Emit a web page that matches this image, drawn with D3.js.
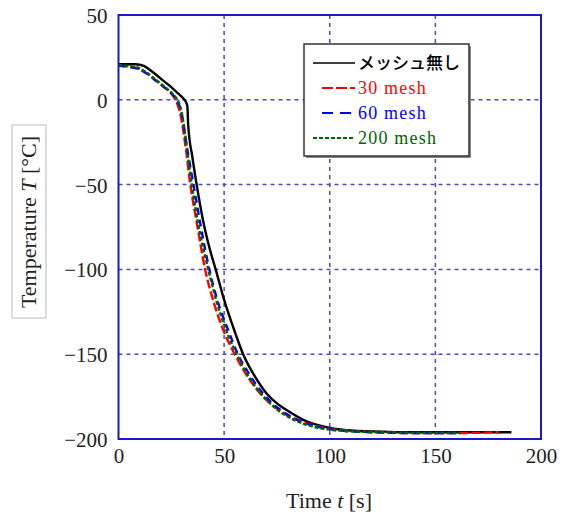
<!DOCTYPE html>
<meta charset="utf-8">
<script src="https://d3js.org/d3.v7.min.js"></script>
<style>
  body { margin: 0; background: #fff; }
  text { font-family: "Liberation Serif", "Times New Roman", serif; }
</style>
<div id="chart"></div>
<script>

    // Series (time [s], temperature [°C])
    const timeNoMesh = [0, 8, 12, 16, 20, 24, 28, 30.5, 32, 32.6, 33, 35, 37, 40, 43, 46, 50, 54, 59, 65, 70, 75, 81, 88, 95, 100, 110, 120, 140, 160, 186]
    const tempNoMesh = [21, 21, 20, 16.5, 12.5, 8.5, 4, 1, -1.5, -4, -15, -34, -50, -71, -87, -100, -118, -133, -150, -164, -173, -179, -184, -189, -192, -193.5, -195, -195.5, -196, -196, -196]

    const time30 = [0, 5, 10, 14, 18, 22, 26, 28, 29, 30, 31, 32, 34, 37, 41, 45, 50, 55, 60, 65, 70, 75, 80, 90, 100, 110, 120, 140, 160, 180]
    const temp30 = [20, 19.5, 18, 15, 11, 7, 2, -3, -7, -13, -21, -30, -50, -72, -100, -119, -137, -150, -161, -170, -177, -182, -186, -191, -194, -195, -196, -196.5, -196.5, -196]

    const time60 = [0, 5, 10, 14, 18, 22, 26, 28, 29.5, 31, 32, 33.5, 35.5, 39, 43, 47, 52, 56.5, 62, 67, 72, 78, 85, 95, 105, 120, 140, 161]
    const temp60 = [20, 19.5, 18, 15, 11, 7, 2.5, -1, -6, -16, -25, -36, -50, -75, -100, -119, -136, -150, -162, -171, -178, -184, -189, -193, -195, -196, -196.5, -196.5]

    const time200 = [0, 5, 10, 14, 18, 22, 26, 28.5, 30, 31.5, 33, 34.7, 38, 42.5, 46, 51, 56, 61, 66, 71, 76.5, 82, 90, 100, 110, 125, 145, 162]
    const temp200 = [20.5, 20, 18.5, 15.5, 11.5, 7.5, 3, -1.5, -8, -20, -35, -50, -75, -100, -117, -136, -150, -162, -171, -178, -184, -188, -192, -194.5, -195.5, -196, -196.5, -196.5]

    const xTicks = [0, 50, 100, 150, 200]
    const yTicks = [-200, -150, -100, -50, 0, 50]
    const legendLabels = ["メッシュ無し", "30 mesh", "60 mesh", "200 mesh"]

    const series = [
        { t: timeNoMesh, v: tempNoMesh, color: "#000", dash: null, width: 2.4 },
        { t: time30, v: temp30, color: "#ff0000", dash: "9,3", width: 2.4 },
        { t: time60, v: temp60, color: "#0000ff", dash: "7,5", width: 2.4 },
        { t: time200, v: temp200, color: "#006400", dash: "4,2", width: 2.4 }
    ]

    const margin = { top: 15, right: 22, bottom: 77, left: 118.5 },
        width = 563 - margin.left - margin.right,
        height = 516 - margin.top - margin.bottom

    const svg = d3.select("#chart")
        .append("svg")
        .attr("width", 563)
        .attr("height", 516)

    const g = svg.append("g")
        .attr("transform", `translate(${margin.left},${margin.top})`)

    const x = d3.scaleLinear().domain([0, 200]).range([0, width])
    const y = d3.scaleLinear().domain([-200, 50]).range([height, 0])

    // dashed grid
    g.selectAll(".vgrid")
        .data(xTicks.slice(1, -1))
        .join("line")
        .attr("x1", d => x(d)).attr("x2", d => x(d))
        .attr("y1", 0).attr("y2", height)
        .attr("stroke", "#4a4ab8")
        .attr("stroke-width", 1.5)
        .attr("stroke-dasharray", "4,4")

    g.selectAll(".hgrid")
        .data(yTicks.slice(1, -1))
        .join("line")
        .attr("y1", d => y(d)).attr("y2", d => y(d))
        .attr("x1", 0).attr("x2", width)
        .attr("stroke", "#4a4ab8")
        .attr("stroke-width", 1.5)
        .attr("stroke-dasharray", "4,4")

    // axes (labels only, frame drawn below)
    const xAxis = g.append("g")
        .attr("transform", `translate(0,${height})`)
        .call(d3.axisBottom(x).tickValues(xTicks).tickSize(0).tickPadding(9))
    const yAxis = g.append("g")
        .call(d3.axisLeft(y).tickValues(yTicks).tickSize(0).tickPadding(11))
    ;[xAxis, yAxis].forEach(a => {
        a.select(".domain").remove()
        a.selectAll("text")
            .style("font-family", "'Liberation Serif', serif")
            .style("font-size", "21px")
            .attr("fill", "#222")
    })
    yAxis.selectAll("text").attr("dy", "0.36em")

    // curves
    const line = d3.line()
        .x(d => x(d[0]))
        .y(d => y(d[1]))
        .curve(d3.curveMonotoneX)

    series.forEach(s => {
        g.append("path")
            .datum(d3.zip(s.t, s.v))
            .attr("d", line)
            .attr("fill", "none")
            .attr("stroke", s.color)
            .attr("stroke-width", s.width)
            .attr("stroke-dasharray", s.dash)
    })

    // frame
    g.append("rect")
        .attr("width", width)
        .attr("height", height)
        .attr("fill", "none")
        .attr("stroke", "#1a1ac8")
        .attr("stroke-width", 2)

    // legend
    const lg = svg.append("g")
    lg.append("rect")
        .attr("x", 306).attr("y", 46)
        .attr("width", 165).attr("height", 112)
        .attr("fill", "#888")
    lg.append("rect")
        .attr("x", 304).attr("y", 44)
        .attr("width", 165).attr("height", 112)
        .attr("fill", "#fff")
        .attr("stroke", "#333")
        .attr("stroke-width", 1.5)

    const rowY = [63, 88, 113, 138]
    const sampleX = [[313, 355], [322, 355], [322, 355], [313, 355]]
    series.forEach((s, i) => {
        lg.append("line")
            .attr("x1", sampleX[i][0]).attr("x2", sampleX[i][1])
            .attr("y1", rowY[i]).attr("y2", rowY[i])
            .attr("stroke", s.color)
            .attr("stroke-width", i === 0 ? 1.5 : 2.2)
            .attr("stroke-dasharray", i === 1 ? "11,3" : i === 2 ? "11,7" : s.dash)
        lg.append("text")
            .attr("x", 358)
            .attr("y", rowY[i] + 6)
            .attr("fill", s.color)
            .style("font-family", i === 0 ? "'Noto Sans CJK JP', sans-serif" : "'Liberation Serif', serif")
            .style("font-size", i === 0 ? "17px" : "18px")
            .style("font-weight", i === 0 ? "500" : "normal")
            .style("letter-spacing", i === 0 ? "0px" : "1.2px")
            .text(legendLabels[i])
    })

    // x title
    const xt = svg.append("text")
        .attr("x", 329).attr("y", 508)
        .attr("text-anchor", "middle")
        .attr("fill", "#222")
        .style("font-size", "22px")
    xt.append("tspan").text("Time ")
    xt.append("tspan").style("font-style", "italic").text("t")
    xt.append("tspan").text(" [s]")

    // y title in a light box
    svg.append("rect")
        .attr("x", 12).attr("y", 125)
        .attr("width", 34).attr("height", 193)
        .attr("fill", "#fff")
        .attr("stroke", "#bbb")
        .attr("stroke-width", 1)
    const yt = svg.append("text")
        .attr("transform", "translate(36,222) rotate(-90)")
        .attr("text-anchor", "middle")
        .attr("fill", "#222")
        .style("font-size", "22px")
    yt.append("tspan").text("Temperature ")
    yt.append("tspan").style("font-style", "italic").text("T")
    yt.append("tspan").text(" [°C]")

</script>
